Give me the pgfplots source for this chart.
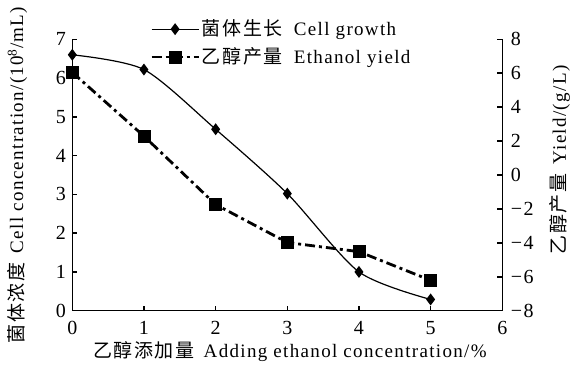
\documentclass[border=0pt]{standalone}
\usepackage{fontspec}
\setmainfont{Liberation Serif}[LetterSpace=7]
\newfontfamily\cjk{Noto Sans CJK SC}[LetterSpace=8]
\usepackage{pgfplots}
\pgfplotsset{compat=1.18}

\pgfplotstableread{
x growth
0 6.60
1 6.22
2 4.68
3 3.02
4 1.00
5 0.29
}\growthtable
\pgfplotstableread{
x yield
0 6.05
1 2.29
2 -1.74
3 -3.98
4 -4.52
5 -6.21
}\yieldtable

\pgfplotsset{
  growthstyle/.style={black, line width=1.2pt, smooth, tension=0.45, mark=diamond*, mark size=5pt, mark options={solid, fill=black}},
  yieldstyle/.style={black, line width=2.8pt, dash pattern=on 10pt off 4pt on 3pt off 4pt, mark=square*, mark size=6pt, mark options={solid, fill=black, line width=0.5pt}},
  mylegend/.style={legend image code/.code={%
      \draw[mark repeat=2, mark phase=2, ##1] plot coordinates {(0pt,0pt) (23.5pt,0pt) (47pt,0pt)};}},
  common/.style={
    scale only axis, width=430pt, height=271.4pt,
    xmin=0, xmax=6, clip=false,
    tick align=inside, major tick length=5pt,
    axis line style={line width=1.5pt},
    every tick/.style={line width=1.5pt, black},
    tick label style={font=\fontsize{20}{22}\selectfont},
    /pgf/number format/assume math mode=true,
  }
}

\begin{document}
\fontsize{19}{22}\selectfont
\begin{tikzpicture}
\path[use as bounding box] (-72.3pt,-69.3pt) rectangle (500.7pt,310.7pt);
\begin{axis}[
  common,
  ymin=0, ymax=7,
  axis x line*=bottom, axis y line*=left,
  xtick={0,1,2,3,4,5,6}, ytick={0,1,2,3,4,5,6,7},
  xticklabel style={yshift=-4pt},
  every axis x label/.style={at={(axis description cs:0.506,-0.152)}, anchor=center},
  every axis y label/.style={at={(axis description cs:-0.1286,0.5)}, anchor=center, rotate=90},
  xlabel={{\cjk 乙醇添加量}\hspace{0.5em}Adding ethanol concentration/\%},
  ylabel={{\cjk 菌体浓度}\hspace{0.5em}Cell concentration/(10\textsuperscript{8}/mL)},
  legend style={at={(rel axis cs:0.1807,1.08)}, anchor=north west, draw=none, fill=none,
    inner sep=0pt, row sep=5pt, font=\fontsize{19}{22}\selectfont,
    nodes={inner sep=2pt}},
  legend cell align=left,
]
\addplot[growthstyle, mylegend] table[x=x, y=growth] {\growthtable};
\addlegendentry{{\cjk 菌体生长}\hspace{0.6em}Cell growth}
\addlegendimage{yieldstyle, mylegend}
\addlegendentry{{\cjk 乙醇产量}\hspace{0.6em}Ethanol yield}
\end{axis}
\begin{axis}[
  common,
  ymin=-8, ymax=8,
  axis x line=none, axis y line*=right,
  ytick={-8,-6,-4,-2,0,2,4,6,8},
  yticklabels={−8,−6,−4,−2,0,2,4,6,8},
  yticklabel style={xshift=2pt},
  every axis y label/.style={at={(axis description cs:1.134,0.555)}, anchor=center, rotate=90},
  ylabel={{\cjk 乙醇产量}\hspace{0.5em}Yield/(g/L)},
]
\addplot[yieldstyle] table[x=x, y=yield] {\yieldtable};
\end{axis}
\end{tikzpicture}
\end{document}
